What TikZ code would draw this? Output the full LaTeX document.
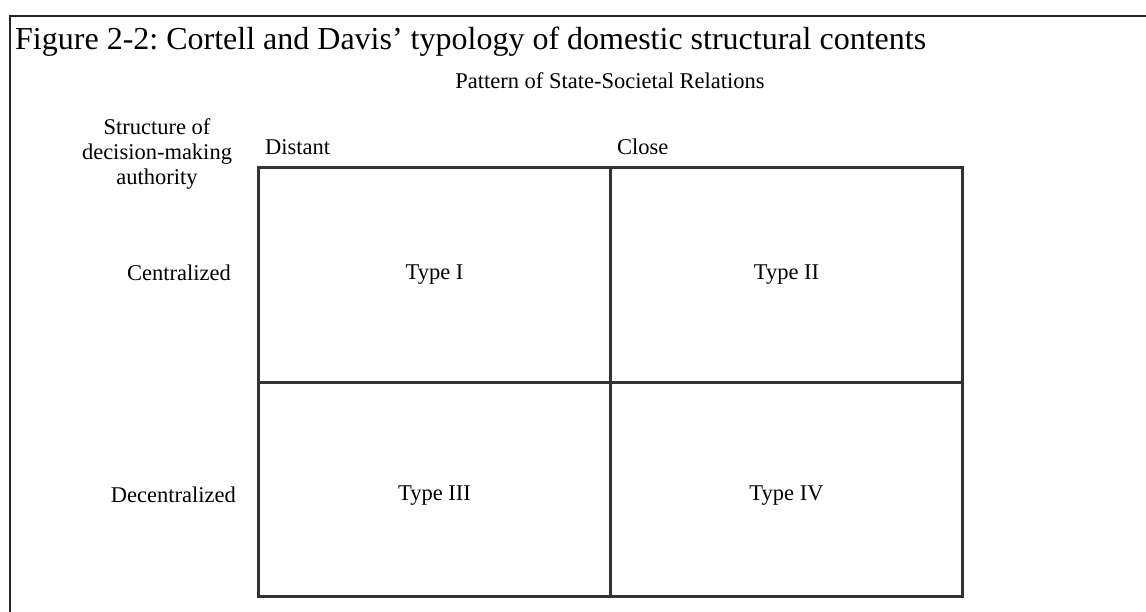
\documentclass[tikz,border=0pt]{standalone}
\usepackage{fontspec}
\setmainfont{Liberation Serif}
\usetikzlibrary{matrix,positioning}
\frenchspacing

\begin{document}
\begin{tikzpicture}[x=1pt,y=-1pt,
    label text/.style={inner sep=0pt, font=\fontsize{22.5}{25}\selectfont}
]
    \useasboundingbox (0,0) rectangle (1146,612);

    \coordinate (frame corner) at (10,16);
    \coordinate (frame right) at (1146,16);
    \coordinate (frame bottom) at (10,612);
    \draw[line width=1.8pt,black!85] (frame right) -- (frame corner) -- (frame bottom);

    \node[anchor=base west, inner sep=0pt, font=\fontsize{32}{38}\selectfont] (title) at (15,50)
        {Figure 2-2: Cortell and Davis' typology of domestic structural contents};

    \matrix (type grid) [matrix of nodes, nodes in empty cells,
        nodes={draw=black!80, line width=3pt, minimum width=352pt, minimum height=214pt,
            anchor=center, label text},
        row 2/.style={nodes={text height=27pt}},
        column sep=-3pt, row sep=-3pt
    ] at (610.5,382) {
        Type I & Type II \\
        Type III & Type IV \\
    };

    \node[label text, above right=12pt and 8pt of type grid-1-1.north west] (distant) {Distant};
    \node[label text, above right=12pt and 8pt of type grid-1-2.north west] (close) {Close};

    \node[label text, anchor=base] (pattern) at (610,89) {Pattern of State-Societal Relations};

    \node[label text, left=26pt of type grid-1-1.west, yshift=2pt] (centralized) {Centralized};
    \node[label text, left=21pt of type grid-2-1.west, yshift=-6pt] (decentralized) {Decentralized};

    \node[label text, align=center] (structure) at (157,154)
        {Structure of\\decision-making\\authority};
\end{tikzpicture}
\end{document}
